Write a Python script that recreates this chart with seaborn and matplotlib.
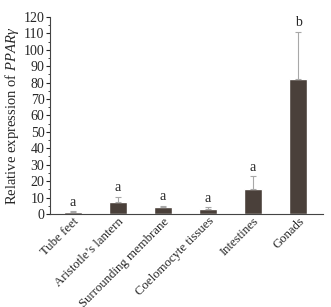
import numpy as np
import pandas as pd
import matplotlib
matplotlib.use("Agg")
import matplotlib.pyplot as plt
import seaborn as sns

# tissues and relative expression values
tissues = ["Tube feet", "Aristotle\u2019s lantern", "Surrounding membrane",
           "Coelomocyte tissues", "Intestines", "Gonads"]
means = [1.0, 7.5, 4.5, 3.0, 15.0, 82.0]
errors = [0.6, 3.0, 0.5, 1.2, 8.0, 29.0]
letters = ["a", "a", "a", "a", "a", "b"]

df = pd.DataFrame({"tissue": tissues, "value": means})

sns.set_style("ticks")
plt.rcParams["font.family"] = ["Liberation Serif", "DejaVu Serif"]
plt.rcParams["mathtext.fontset"] = "custom"
plt.rcParams["mathtext.rm"] = "Liberation Serif"
plt.rcParams["mathtext.it"] = "Liberation Serif:italic"

fig = plt.figure(figsize=(3.31, 3.07), dpi=100)
ax = fig.add_axes([0.151, 0.303, 0.825, 0.642])

sns.barplot(data=df, x="tissue", y="value", color="#4a403a", width=0.4,
            saturation=1, errorbar=None, ax=ax)

#upper error bars only
ax.errorbar(np.arange(len(tissues)), means, yerr=[np.zeros(len(errors)), errors],
            fmt="none", ecolor="#a8a8a8", elinewidth=0.8, capsize=2.5, capthick=0.8)

for i, (m, e, lab) in enumerate(zip(means, errors, letters)):
    ax.text(i, m + e + 1.5, lab, ha="center", va="bottom", fontsize=10)

ax.set_ylim(0, 120)
ax.set_yticks(range(0, 121, 10))
ax.set_yticks(range(0, 121, 5), minor=True)
ax.tick_params(axis="y", which="major", length=3, width=0.8, labelsize=10, pad=1)
ax.tick_params(axis="y", which="minor", length=1.5, width=0.6)
ax.tick_params(axis="x", length=0, labelsize=9.2, pad=1)
ax.set_xticks(range(len(tissues)))
ax.set_xticklabels(tissues, rotation=45, ha="right", rotation_mode="anchor")
ax.set_xlim(-0.5, len(tissues) - 0.45)

ax.set_xlabel("")
ax.set_ylabel("Relative expression of $\\it{PPAR\\gamma}$", fontsize=10.5, labelpad=2)
sns.despine(ax=ax)
for s in ["left", "bottom"]:
    ax.spines[s].set_linewidth(0.8)
    ax.spines[s].set_color("#444444")

fig.savefig("out.png", dpi=100)
